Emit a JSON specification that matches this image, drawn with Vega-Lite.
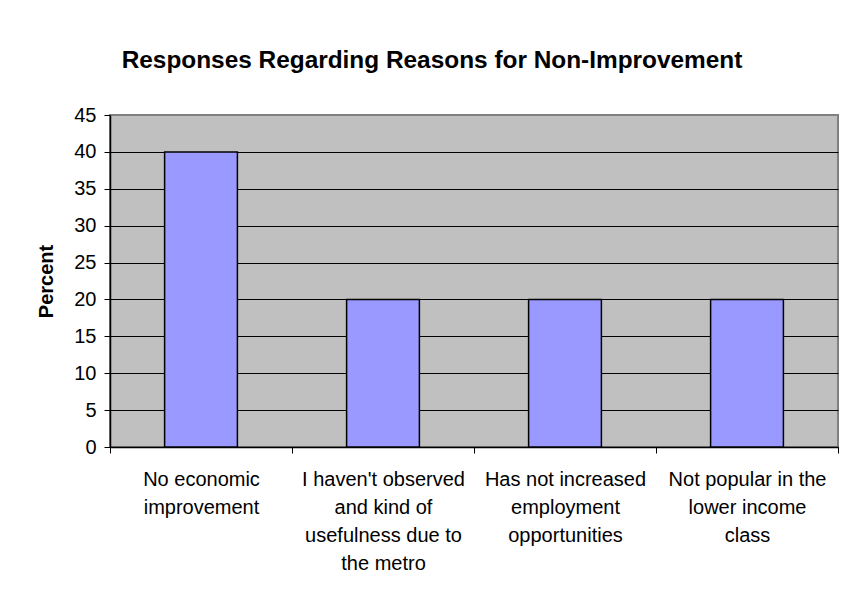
{
  "$schema": "https://vega.github.io/schema/vega-lite/v6.json",
  "autosize": "none",
  "width": 728,
  "height": 332,
  "padding": {"left": 110, "top": 115, "right": 8, "bottom": 152},
  "background": "white",
  "title": {
    "text": "Responses Regarding Reasons for Non-Improvement",
    "font": "Liberation Sans",
    "fontSize": 24.4,
    "fontWeight": "bold",
    "color": "black",
    "anchor": "middle",
    "frame": "group",
    "dx": -42,
    "baseline": "alphabetic",
    "offset": 13
  },
  "data": {
    "values": [
      {"reason": "No economic improvement", "percent": 40},
      {"reason": "I haven't observed and kind of usefulness due to the metro", "percent": 20},
      {"reason": "Has not increased employment opportunities", "percent": 20},
      {"reason": "Not popular in the lower income class", "percent": 20}
    ]
  },
  "mark": {"type": "bar", "color": "#9999FF", "stroke": "black", "strokeWidth": 1.5, "width": {"band": 0.4}},
  "encoding": {
    "x": {
      "field": "reason",
      "type": "nominal",
      "sort": null,
      "scale": {"paddingInner": 0, "paddingOuter": 0},
      "axis": {
        "title": null,
        "labelAngle": 0,
        "tickBand": "extent",
        "labelFont": "Liberation Sans",
        "labelFontSize": 20,
        "labelColor": "black",
        "labelLimit": 400,
        "labelLineHeight": 28,
        "labelBaseline": "top",
        "labelPadding": 16,
        "tickSize": 6,
        "tickColor": "black",
        "domainColor": "black",
        "domainWidth": 1.5,
        "grid": false,
        "labelExpr": "datum.value == 'No economic improvement' ? ['No economic', 'improvement'] : datum.value == 'Has not increased employment opportunities' ? ['Has not increased', 'employment', 'opportunities'] : datum.value == 'Not popular in the lower income class' ? ['Not popular in the', 'lower income', 'class'] : datum.value == 'I haven\\'t observed and kind of usefulness due to the metro' ? ['I haven\\'t observed', 'and kind of', 'usefulness due to', 'the metro'] : ''"
      }
    },
    "y": {
      "field": "percent",
      "type": "quantitative",
      "scale": {"domain": [0, 45], "nice": false},
      "axis": {
        "title": "Percent",
        "titleFont": "Liberation Sans",
        "titleFontSize": 20,
        "titleFontWeight": "bold",
        "titleColor": "black",
        "titleAngle": -90,
        "titleX": -64,
        "titleY": 166,
        "titleAlign": "center",
        "titleBaseline": "middle",
        "values": [0, 5, 10, 15, 20, 25, 30, 35, 40, 45],
        "labelFont": "Liberation Sans",
        "labelFontSize": 20,
        "labelColor": "black",
        "labelPadding": 8,
        "tickSize": 6,
        "tickColor": "black",
        "domainColor": "black",
        "domainWidth": 1.5,
        "grid": true,
        "gridColor": {"condition": {"test": "datum.value === 45", "value": "#808080"}, "value": "black"},
        "gridWidth": 1
      }
    }
  },
  "config": {
    "view": {"fill": "#C0C0C0", "stroke": "#808080", "strokeWidth": 2}
  }
}
